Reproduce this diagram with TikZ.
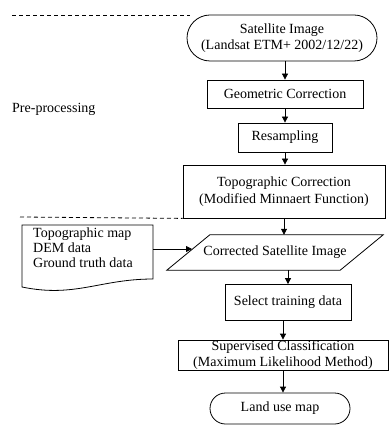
\documentclass[tikz,border=0pt]{standalone}
\usepackage{fontspec}
\setmainfont{Liberation Serif}
\usetikzlibrary{arrows.meta,shapes.misc}
\begin{document}
\begin{tikzpicture}[x=1pt,y=-1pt,
  every node/.style={font=\fontsize{14}{16.5}\selectfont, inner sep=0pt, align=center},
  box/.style={draw, line width=0.8pt, rectangle},
  term/.style={draw, line width=0.8pt, rounded rectangle},
  flow/.style={line width=0.8pt, -{Triangle[length=6pt,width=6pt]}},
  sep/.style={line width=0.8pt, dash pattern=on 4pt off 3pt}
]
\useasboundingbox (0,0) rectangle (391,427);

\node[term, minimum width=190pt, minimum height=46pt] (sat) at (282,38) {Satellite Image\\(Landsat ETM+ 2002/12/22)};
\node[box, minimum width=156pt, minimum height=28pt] (geo) at (285,94) {Geometric Correction};
\node[box, minimum width=94pt, minimum height=29pt] (res) at (285,137.5) {Resampling};
\node[box, minimum width=202pt, minimum height=53pt] (topo) at (284,191.5) {Topographic Correction\\(Modified Minnaert Function)};
\node[minimum width=173pt, minimum height=35pt] (para) at (275,252.5) {Corrected Satellite Image};
\draw[line width=0.8pt] ([xshift=21.5pt]para.north west) -- ([xshift=21.5pt]para.north east)
  -- ([xshift=-21.5pt]para.south east) -- ([xshift=-21.5pt]para.south west) -- cycle;
\node[box, minimum width=126pt, minimum height=36pt] (sel) at (288,302.5) {Select training data};
\node[box, minimum width=210pt, minimum height=30pt] (sup) at (283,355) {Supervised Classification\\(Maximum Likelihood Method)};
\node[term, minimum width=140pt, minimum height=31pt] (land) at (280,408.5) {Land use map};

% document shape
\node[align=left, anchor=north west, font=\fontsize{14}{15}\selectfont] (doc) at (33,228) {Topographic map\\DEM data\\Ground truth data};
\draw[line width=0.8pt] (22,225) -- (153,225) -- (153,279) .. controls (100,279) and (75,298) .. (22,287) -- cycle;
\coordinate (docR) at (153,249);
\coordinate (paraL) at (192,249);

\node[anchor=west] (pre) at (12,109) {Pre-processing};
\coordinate (d1a) at (12,15);
\coordinate (d1b) at (190,15);
\coordinate (d2a) at (20,217);
\draw[sep] (d1a) -- (d1b);
\draw[sep] (d2a) -- (topo.south west);

\draw[flow] (sat.south -| geo.north) -- (geo.north);
\draw[flow] (geo.south) -- (res.north);
\draw[flow] (res.south) -- (topo.north -| res.south);
\draw[flow] (topo.south) -- (topo.south |- para.north);
\draw[flow] (sel.north |- para.south) -- (sel.north);
\draw[flow] (sel.south -| sup.north) -- (sup.north);
\draw[flow] (sup.south) -- (sup.south |- land.north);
\draw[flow] (docR) -- (paraL);
\end{tikzpicture}
\end{document}
